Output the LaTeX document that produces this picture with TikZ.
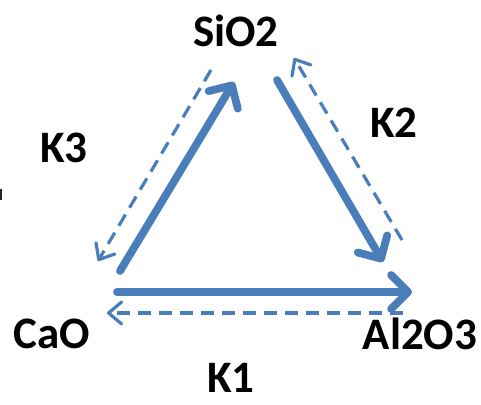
\documentclass[tikz,border=0pt]{standalone}
\usepackage{fontspec}
\setmainfont{Carlito}
\usetikzlibrary{arrows.meta}
\definecolor{flowblue}{HTML}{4A7EBB}
\tikzset{
  species/.style={font=\bfseries\fontsize{45}{48}\selectfont, text=black, inner sep=0pt, anchor=base},
  rate/.style={font=\bfseries\fontsize{45}{48}\selectfont, text=black, inner sep=0pt, anchor=base},
  forward/.style={draw=flowblue, line width=7.8pt, line cap=round,
    -{Straight Barb[length=17pt, width=34pt, round]}},
  backward/.style={draw=flowblue, line width=3.2pt, dash pattern=on 13pt off 8pt,
    -{Straight Barb[length=13pt, width=22pt, round]}}
}
\begin{document}
\begin{tikzpicture}[x=1pt, y=-1pt]
  \useasboundingbox (0,0) rectangle (481,404);

  % species and rate constants
  \node[species] (sio2) at (236,47) {SiO2};
  \node[species] (cao) at (52,348) {CaO};
  \node[species] (al2o3) at (420,349) {Al2O3};
  \node[rate] (k1) at (231,392) {K1};
  \node[rate] (k2) at (394,137) {K2};
  \node[rate] (k3) at (64,162) {K3};

  % arrow end points
  \coordinate (caoF) at (120,271);
  \coordinate (sioF) at (234,82);
  \coordinate (sioB) at (211,70);
  \coordinate (caoB) at (98,261);
  \coordinate (sioR) at (277,80);
  \coordinate (alR) at (383,262);
  \coordinate (alRB) at (402,240);
  \coordinate (sioRB) at (294,58);
  \coordinate (caoH) at (117,292);
  \coordinate (alH) at (412,292);
  \coordinate (alHB) at (403,313);
  \coordinate (caoHB) at (107,313);

  % forward reactions
  \draw[forward] (caoF) -- (sioF);
  \draw[forward] (sioR) -- (alR);
  \draw[forward] (caoH) -- (alH);

  % reverse reactions
  \draw[backward] (sioB) -- (caoB);
  \draw[backward] (alRB) -- (sioRB);
  \draw[backward] (alHB) -- (caoHB);

  % small mark on the left edge
  \fill[black!85] (0,189) rectangle (2.2,200);
\end{tikzpicture}
\end{document}
